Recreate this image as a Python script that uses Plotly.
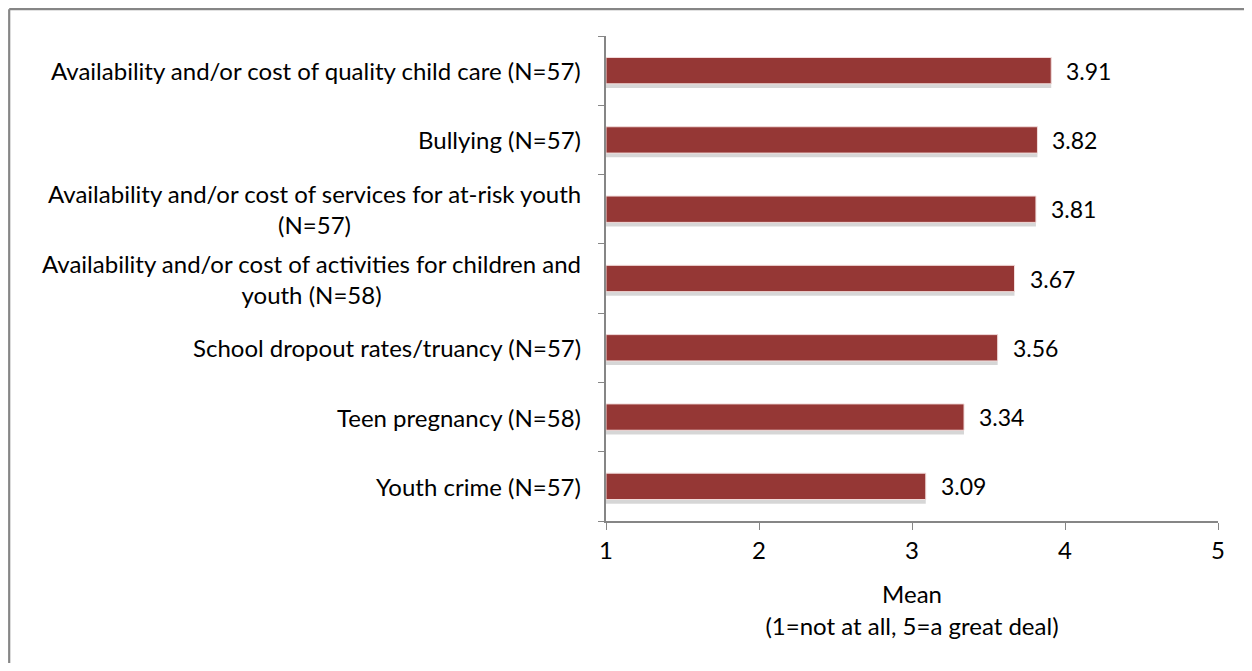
import plotly.graph_objects as go

categories = [
    "Availability and/or cost of quality child care (N=57)",
    "Bullying (N=57)",
    "Availability and/or cost of services for at-risk youth<br>(N=57)",
    "Availability and/or cost of activities for children and<br>youth (N=58)",
    "School dropout rates/truancy (N=57)",
    "Teen pregnancy (N=58)",
    "Youth crime (N=57)",
]
means = [3.91, 3.82, 3.81, 3.67, 3.56, 3.34, 3.09]
x_ticks = [1, 2, 3, 4, 5]
axis_title = "Mean<br>(1=not at all, 5=a great deal)"

BAR = "#953735"
FONT = "Lato"
FS = 24
AXIS = "#868686"

ids = list(range(len(categories)))

fig = go.Figure()
# soft shadow below bars
fig.add_trace(go.Bar(
    y=ids, x=[m - 1 for m in means], base=1, orientation="h",
    width=0.38, offset=-0.19 + 0.06,
    marker=dict(color="rgba(0,0,0,0.16)", line=dict(width=0)),
    hoverinfo="skip", showlegend=False,
))
fig.add_trace(go.Bar(
    y=ids, x=[m - 1 for m in means], base=1, orientation="h",
    width=0.38, offset=-0.19,
    marker=dict(color=BAR, line=dict(color="#f2dcdb", width=1)),
    showlegend=False,
))

annotations = []
for i, (c, m) in enumerate(zip(categories, means)):
    annotations.append(dict(
        x=-0.037, xref="paper", y=i, yref="y", text=c, showarrow=False,
        xanchor="right", yanchor="middle", align="center",
        font=dict(family=FONT, size=FS, color="#000000"),
    ))
    annotations.append(dict(
        x=m, xref="x", y=i, yref="y", text=f"{m:.2f}", showarrow=False,
        xanchor="left", yanchor="middle", xshift=13,
        font=dict(family=FONT, size=23, color="#000000"),
    ))

# page body has an 8px margin; compensate so the plot area lands at
# x 606..1218, y 36..521 of the window, without overflowing the window
OFF = 8
W, H = 1236, 655
L, T = 606 - OFF, 36 - OFF
R = W - (1218 - OFF)
B = H - (521 - OFF)
pw, ph = W - L - R, H - T - B
BX = 1.2  # border position inside the figure (px)
bx = (BX - L) / pw
by = (H - B - BX) / ph
right_edge = (W - L) / pw
bottom_edge = -B / ph

border = dict(color=AXIS, width=2.2)
fig.update_layout(
    width=W, height=H,
    margin=dict(l=L, r=R, t=T, b=B),
    paper_bgcolor="white", plot_bgcolor="white",
    barmode="overlay",
    font=dict(family=FONT, size=FS, color="#000000"),
    annotations=annotations,
    shapes=[
        dict(type="line", xref="paper", yref="paper", x0=bx, x1=bx, y0=bottom_edge, y1=by,
             line=border, layer="below"),
        dict(type="line", xref="paper", yref="paper", x0=bx, x1=right_edge, y0=by, y1=by,
             line=border, layer="below"),
    ],
    xaxis=dict(
        range=[1, 5], tickvals=x_ticks, ticks="outside", ticklen=7,
        tickcolor=AXIS, showline=True, linecolor=AXIS, linewidth=1.5,
        showgrid=False, zeroline=False,
        tickfont=dict(family=FONT, size=FS),
        title=dict(text=axis_title, font=dict(family=FONT, size=FS), standoff=24),
    ),
    yaxis=dict(
        type="linear", range=[len(categories) - 0.5, -0.5],
        tickvals=[i - 0.5 for i in range(len(categories) + 1)],
        showticklabels=False, ticks="outside", ticklen=6, tickcolor=AXIS,
        showline=True, linecolor=AXIS, linewidth=1.5, showgrid=False, zeroline=False,
    ),
)

fig.write_html("out.html")
